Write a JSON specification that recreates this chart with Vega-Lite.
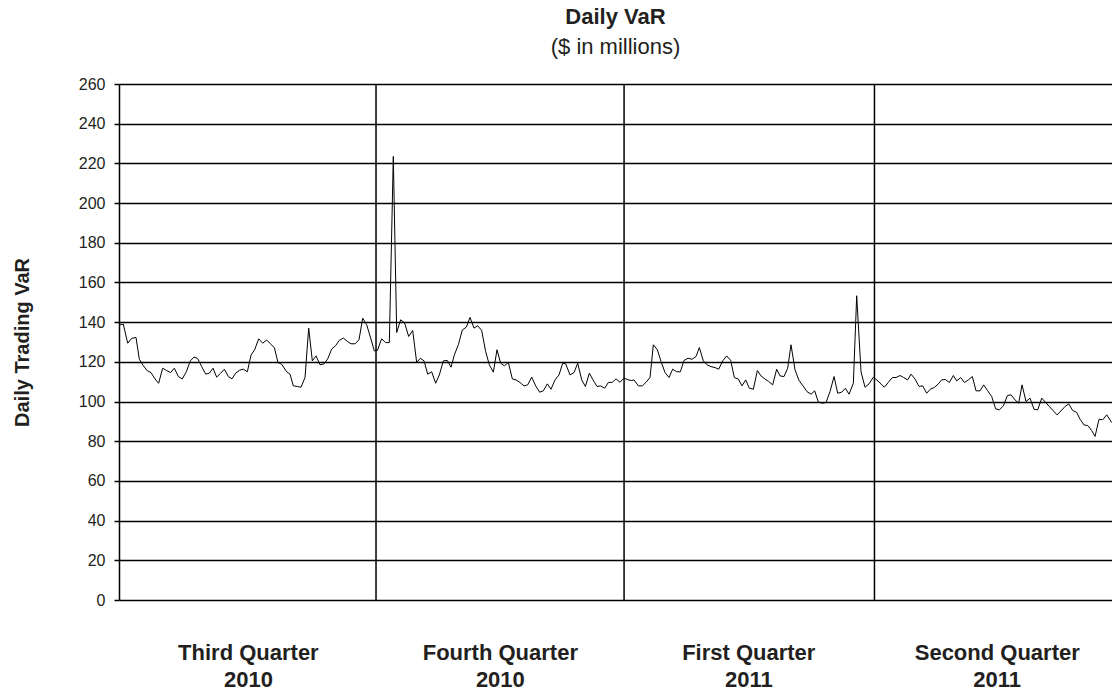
{
  "$schema": "https://vega.github.io/schema/vega-lite/v6.json",
  "width": 993,
  "height": 516,
  "autosize": {"type": "none"},
  "padding": {"left": 119, "top": 84, "right": 0, "bottom": 90},
  "background": "white",
  "config": {
    "view": {"stroke": null},
    "font": "Liberation Sans"
  },
  "title": {
    "text": "Daily VaR",
    "subtitle": "($ in millions)",
    "anchor": "middle",
    "font": "Liberation Sans",
    "fontSize": 22,
    "fontWeight": "bold",
    "color": "#231f20",
    "subtitleFont": "Liberation Sans",
    "subtitleFontSize": 22,
    "subtitleFontWeight": "normal",
    "subtitleColor": "#231f20",
    "subtitlePadding": 8,
    "offset": 17
  },
  "datasets": {
    "var": [
      {"d": 0, "v": 138.5}, {"d": 1.11, "v": 139}, {"d": 2.23, "v": 129.4}, {"d": 3.25, "v": 131.8}, {"d": 4.37, "v": 132.3},
      {"d": 5.22, "v": 121.3}, {"d": 6.25, "v": 118}, {"d": 7.28, "v": 115.5}, {"d": 8.22, "v": 114.6}, {"d": 9.24, "v": 111.4},
      {"d": 10.18, "v": 109.2}, {"d": 11.21, "v": 116.8}, {"d": 12.24, "v": 115.6}, {"d": 13.27, "v": 114.6}, {"d": 14.21, "v": 116.8},
      {"d": 15.24, "v": 112.6}, {"d": 16.26, "v": 111.4}, {"d": 17.29, "v": 115}, {"d": 18.32, "v": 120.5}, {"d": 19.26, "v": 122.4},
      {"d": 20.2, "v": 121.7}, {"d": 21.23, "v": 117.6}, {"d": 22.26, "v": 113.8}, {"d": 23.2, "v": 114.3}, {"d": 24.14, "v": 116.8},
      {"d": 25.08, "v": 112.3}, {"d": 26.11, "v": 114.3}, {"d": 27.06, "v": 116.3}, {"d": 28.08, "v": 112.6}, {"d": 29.02, "v": 111.4},
      {"d": 29.96, "v": 114.3}, {"d": 30.99, "v": 115.8}, {"d": 31.93, "v": 116.3}, {"d": 32.96, "v": 115}, {"d": 33.9, "v": 123.4},
      {"d": 34.84, "v": 126.1}, {"d": 35.87, "v": 131.6}, {"d": 36.9, "v": 129.4}, {"d": 37.92, "v": 131}, {"d": 38.86, "v": 129.1},
      {"d": 39.89, "v": 127.2}, {"d": 40.83, "v": 119.7}, {"d": 41.77, "v": 118.8}, {"d": 43.06, "v": 115}, {"d": 43.91, "v": 113.8},
      {"d": 44.77, "v": 107.9}, {"d": 45.8, "v": 107.6}, {"d": 46.74, "v": 107.2}, {"d": 47.77, "v": 112.1}, {"d": 48.71, "v": 137},
      {"d": 49.65, "v": 120.5}, {"d": 50.59, "v": 123}, {"d": 51.62, "v": 118.5}, {"d": 52.64, "v": 119}, {"d": 53.59, "v": 121.5},
      {"d": 54.61, "v": 126.4}, {"d": 55.64, "v": 128.2}, {"d": 56.58, "v": 130.8}, {"d": 57.61, "v": 132}, {"d": 58.64, "v": 130.3},
      {"d": 59.58, "v": 129.1}, {"d": 60.61, "v": 129.1}, {"d": 61.63, "v": 131.1}, {"d": 62.58, "v": 142}, {"d": 63.6, "v": 138.7},
      {"d": 64.63, "v": 132}, {"d": 65.57, "v": 125.5}, {"d": 66.34, "v": 125.7}, {"d": 67.45, "v": 131.6}, {"d": 68.48, "v": 129.7},
      {"d": 69.42, "v": 129.7}, {"d": 70.44, "v": 223.5}, {"d": 71.31, "v": 134.8}, {"d": 72.33, "v": 141.2}, {"d": 73.36, "v": 139.5},
      {"d": 74.39, "v": 132.8}, {"d": 75.42, "v": 135.8}, {"d": 76.44, "v": 119.7}, {"d": 77.38, "v": 121.8}, {"d": 78.33, "v": 120.5},
      {"d": 79.27, "v": 113.8}, {"d": 80.3, "v": 115}, {"d": 81.32, "v": 109.2}, {"d": 82.26, "v": 113.4}, {"d": 83.29, "v": 120.5},
      {"d": 84.32, "v": 120.7}, {"d": 85.26, "v": 117.3}, {"d": 86.12, "v": 123.5}, {"d": 87.14, "v": 128.6}, {"d": 88.17, "v": 136.1},
      {"d": 89.2, "v": 137.5}, {"d": 90.14, "v": 142.4}, {"d": 91.17, "v": 137}, {"d": 92.11, "v": 138.2}, {"d": 93.13, "v": 135.8},
      {"d": 94.16, "v": 125.2}, {"d": 95.1, "v": 118.5}, {"d": 96.13, "v": 114.8}, {"d": 97.07, "v": 126.1}, {"d": 98.01, "v": 119.3},
      {"d": 98.96, "v": 118}, {"d": 99.98, "v": 119.7}, {"d": 101.01, "v": 111.4}, {"d": 101.95, "v": 110.9}, {"d": 102.98, "v": 109.6},
      {"d": 104, "v": 107.9}, {"d": 104.95, "v": 108.4}, {"d": 105.98, "v": 112.3}, {"d": 107, "v": 107.9}, {"d": 108.03, "v": 104.7},
      {"d": 108.97, "v": 105.4}, {"d": 110, "v": 108.9}, {"d": 110.94, "v": 106.2}, {"d": 111.97, "v": 110.9}, {"d": 112.99, "v": 113.4},
      {"d": 113.94, "v": 119.3}, {"d": 114.71, "v": 119}, {"d": 115.82, "v": 113.4}, {"d": 116.85, "v": 114.6}, {"d": 117.79, "v": 119.3},
      {"d": 118.82, "v": 110.9}, {"d": 119.76, "v": 107.6}, {"d": 120.78, "v": 114.3}, {"d": 121.73, "v": 110.9}, {"d": 122.75, "v": 107.6},
      {"d": 123.69, "v": 107.9}, {"d": 124.72, "v": 106.7}, {"d": 125.66, "v": 109.6}, {"d": 126.69, "v": 109.7}, {"d": 127.63, "v": 111.4},
      {"d": 128.66, "v": 109.7}, {"d": 129.69, "v": 111.8}, {"d": 130.8, "v": 110.9}, {"d": 131.66, "v": 110.6}, {"d": 132.26, "v": 110.9},
      {"d": 133.37, "v": 107.9}, {"d": 134.4, "v": 107.9}, {"d": 135.34, "v": 109.7}, {"d": 136.36, "v": 112.1}, {"d": 137.22, "v": 128.6},
      {"d": 138.25, "v": 126.1}, {"d": 139.19, "v": 120.2}, {"d": 140.22, "v": 114.6}, {"d": 141.24, "v": 112.1}, {"d": 142.18, "v": 116.3},
      {"d": 143.21, "v": 115}, {"d": 144.15, "v": 115}, {"d": 145.09, "v": 120.7}, {"d": 146.12, "v": 121.8}, {"d": 147.15, "v": 121.3},
      {"d": 148.18, "v": 122.7}, {"d": 149.03, "v": 127.2}, {"d": 150.06, "v": 120.5}, {"d": 151, "v": 118.5}, {"d": 152.03, "v": 117.6},
      {"d": 153.06, "v": 117.1}, {"d": 154, "v": 116.3}, {"d": 155.03, "v": 120.5}, {"d": 156.05, "v": 123}, {"d": 157.08, "v": 120.7},
      {"d": 158.02, "v": 112.1}, {"d": 159.05, "v": 111.3}, {"d": 159.99, "v": 107.9}, {"d": 160.93, "v": 110.9}, {"d": 161.87, "v": 106.7},
      {"d": 162.9, "v": 106.2}, {"d": 163.93, "v": 115.6}, {"d": 164.87, "v": 112.9}, {"d": 165.9, "v": 111.3}, {"d": 166.84, "v": 110.1},
      {"d": 167.86, "v": 108.4}, {"d": 168.89, "v": 116.3}, {"d": 169.75, "v": 112.9}, {"d": 170.78, "v": 112.6}, {"d": 171.72, "v": 116.8},
      {"d": 172.57, "v": 128.6}, {"d": 173.6, "v": 116}, {"d": 174.63, "v": 110.6}, {"d": 175.65, "v": 107.9}, {"d": 176.68, "v": 105},
      {"d": 177.71, "v": 103.7}, {"d": 178.65, "v": 105.4}, {"d": 179.59, "v": 99.7}, {"d": 180.62, "v": 99.2}, {"d": 181.56, "v": 99.5},
      {"d": 182.59, "v": 105}, {"d": 183.62, "v": 112.6}, {"d": 184.56, "v": 104.2}, {"d": 185.59, "v": 104.7}, {"d": 186.53, "v": 106.7},
      {"d": 187.47, "v": 103.7}, {"d": 188.58, "v": 109.2}, {"d": 189.44, "v": 153.3}, {"d": 190.55, "v": 115}, {"d": 191.58, "v": 107.2},
      {"d": 192.6, "v": 108.9}, {"d": 193.72, "v": 112.3}, {"d": 194.57, "v": 110.9}, {"d": 195.69, "v": 108.9}, {"d": 196.54, "v": 107.2},
      {"d": 197.57, "v": 109.7}, {"d": 198.6, "v": 112.1}, {"d": 199.54, "v": 112.1}, {"d": 200.56, "v": 113.1}, {"d": 201.51, "v": 112.1},
      {"d": 202.53, "v": 110.9}, {"d": 203.39, "v": 113.8}, {"d": 204.42, "v": 111.3}, {"d": 205.44, "v": 107.6}, {"d": 206.39, "v": 107.9},
      {"d": 207.41, "v": 104.2}, {"d": 208.35, "v": 106.2}, {"d": 209.38, "v": 107.1}, {"d": 210.41, "v": 108.9}, {"d": 211.26, "v": 110.9},
      {"d": 212.2, "v": 111.1}, {"d": 213.23, "v": 109.6}, {"d": 214.26, "v": 113.1}, {"d": 215.12, "v": 110.4}, {"d": 216.15, "v": 112.1},
      {"d": 217.09, "v": 109.6}, {"d": 218.11, "v": 110.9}, {"d": 219.14, "v": 112.6}, {"d": 220.08, "v": 105.4}, {"d": 221.11, "v": 105.4},
      {"d": 222.05, "v": 108.4}, {"d": 223.08, "v": 105.4}, {"d": 224.11, "v": 102.5}, {"d": 225.13, "v": 96.3}, {"d": 226.07, "v": 95.8},
      {"d": 227.1, "v": 97.8}, {"d": 228.13, "v": 103}, {"d": 229.07, "v": 103.4}, {"d": 230.1, "v": 100.8}, {"d": 231.04, "v": 99.2},
      {"d": 231.9, "v": 108.4}, {"d": 232.92, "v": 100}, {"d": 233.95, "v": 101.7}, {"d": 234.98, "v": 96.1}, {"d": 235.92, "v": 95.8},
      {"d": 236.95, "v": 101.7}, {"d": 237.97, "v": 99.5}, {"d": 238.91, "v": 97.5}, {"d": 239.94, "v": 95.3}, {"d": 240.88, "v": 93.3},
      {"d": 241.91, "v": 95.3}, {"d": 242.94, "v": 97.5}, {"d": 243.88, "v": 98.8}, {"d": 244.91, "v": 95.5}, {"d": 245.94, "v": 94.5},
      {"d": 246.79, "v": 91.1}, {"d": 247.82, "v": 88.2}, {"d": 248.76, "v": 87.9}, {"d": 249.79, "v": 85.4}, {"d": 250.64, "v": 82.4},
      {"d": 251.67, "v": 91.1}, {"d": 252.61, "v": 90.8}, {"d": 253.64, "v": 93.3}, {"d": 254.92, "v": 89.4}
    ],
    "bounds": [{"b": 66}, {"b": 129.7}, {"b": 194}]
  },
  "layer": [
    {
      "data": {"name": "bounds"},
      "mark": {"type": "rule", "color": "#000000", "strokeWidth": 1.5},
      "encoding": {
        "x": {"field": "b", "type": "quantitative", "scale": {"domain": [0, 255], "nice": false, "zero": false}}
      }
    },
    {
      "data": {"name": "var"},
      "mark": {"type": "line", "color": "#000000", "strokeWidth": 1, "interpolate": "linear"},
      "encoding": {
        "x": {
          "field": "d",
          "type": "quantitative",
          "scale": {"domain": [0, 255], "nice": false, "zero": false},
          "axis": {
            "title": null,
            "values": [33.1, 97.8, 161.6, 225.4],
            "labelExpr": "datum.value < 60 ? ['Third Quarter', '2010'] : datum.value < 120 ? ['Fourth Quarter', '2010'] : datum.value < 190 ? ['First Quarter', '2011'] : ['Second Quarter', '2011']",
            "grid": false,
            "domain": false,
            "ticks": false,
            "tickSize": 0,
            "labelPadding": 42,
            "labelFont": "Liberation Sans",
            "labelFontSize": 22,
            "labelFontWeight": "bold",
            "labelColor": "#231f20",
            "labelLineHeight": 27,
            "labelAlign": "center",
            "labelOverlap": false,
            "labelFlush": false
          }
        },
        "y": {
          "field": "v",
          "type": "quantitative",
          "scale": {"domain": [0, 260], "nice": false},
          "axis": {
            "title": "Daily Trading VaR",
            "titleFont": "Liberation Sans",
            "titleFontSize": 20,
            "titleFontWeight": "bold",
            "titleColor": "#231f20",
            "titleAngle": -90,
            "titleX": -97,
            "titleY": 258,
            "titleBaseline": "middle",
            "titleAlign": "center",
            "values": [0, 20, 40, 60, 80, 100, 120, 140, 160, 180, 200, 220, 240, 260],
            "grid": true,
            "gridColor": "#000000",
            "gridWidth": 1.5,
            "gridOpacity": 1,
            "domain": true,
            "domainColor": "#000000",
            "domainWidth": 1.5,
            "ticks": true,
            "tickColor": "#000000",
            "tickWidth": 1.5,
            "tickSize": 5,
            "labelPadding": 9,
            "labelFont": "Liberation Sans",
            "labelFontSize": 16,
            "labelColor": "#231f20"
          }
        }
      }
    }
  ]
}
